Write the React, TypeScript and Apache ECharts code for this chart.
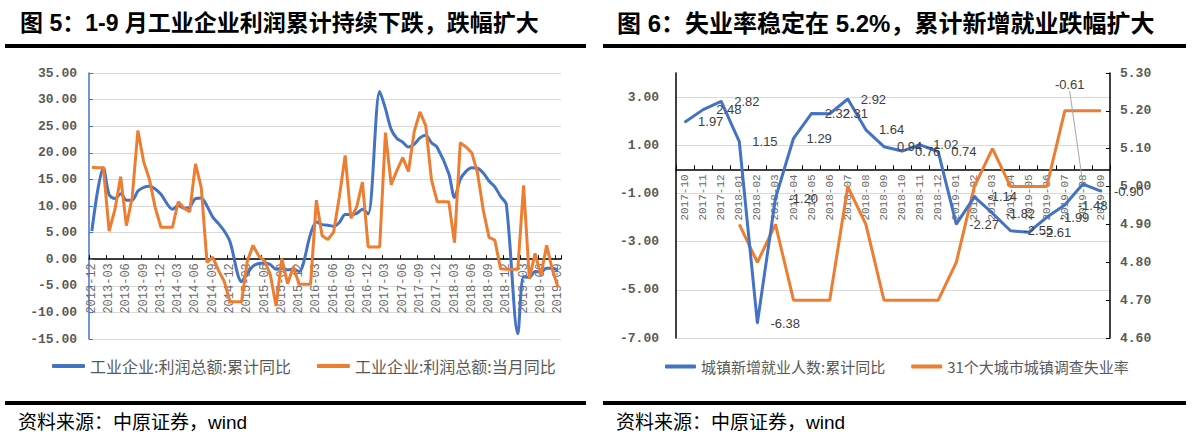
import React, { useEffect, useRef } from 'react';
import * as echarts from 'echarts';

function monthRange(sy: number, sm: number, ey: number, em: number): string[] {
  const out: string[] = [];
  let y = sy;
  let m = sm;
  while (y < ey || (y === ey && m <= em)) {
    out.push(`${y}-${m < 10 ? '0' + m : m}`);
    m += 1;
    if (m > 12) { m = 1; y += 1; }
  }
  return out;
}

// ---------- Figure 5 data ----------
const profitCategories = monthRange(2012, 12, 2019, 9);
const profitSeriesNames = ['工业企业:利润总额:累计同比', '工业企业:利润总额:当月同比'];
const profitCumulative: (number | null)[] = [
  5.3, null, 17.2, 12.1, 11.4, 12.3, 11.1, 11.1, 12.8, 13.5, 13.7, 13.2,
  12.2, null, 9.4, 10.1, 9.6, 9.8, 11.4, 11.5, 10.0, 7.9, 6.7, 5.3,
  3.3, null, -4.2, -2.7, -1.3, -0.8, -0.7, -1.0, -1.9, -1.7, -2.0, -1.9,
  -2.3, null, 4.8, 7.0, 6.5, 6.4, 6.2, 6.9, 8.4, 8.4, 8.6, 9.4,
  8.5, null, 31.5, 28.3, 24.4, 22.7, 22.0, 21.1, 21.6, 22.8, 23.3, 21.9,
  21.0, null, 16.1, 11.6, 15.0, 16.5, 17.2, 17.1, 16.2, 14.7, 13.6, 11.8,
  10.3, null, -14.0, -3.3, -3.4, -2.3, -2.4, -1.7, -1.7, -2.1,
];
const profitMonthly: number[] = [
  17.3, 17.2, 17.2, 5.3, 9.3, 15.5, 6.3, 11.6, 24.2, 18.3, 15.0, 9.7,
  6.0, 6.0, 6.0, 10.8, 9.6, 8.9, 17.9, 13.5, -0.6, 0.4, -2.1, -4.2,
  -8.0, -8.0, -8.0, -0.4, 2.6, 0.6, -0.3, -2.9, -8.8, 0.1, -4.6, -1.4,
  -4.7, -4.7, -4.7, 11.1, 4.4, 3.7, 5.1, 11.8, 19.5, 7.7, 9.8, 14.5,
  2.3, 2.3, 2.3, 23.8, 14.0, 16.7, 19.1, 16.5, 24.0, 27.7, 25.1, 14.9,
  10.8, 10.8, 10.8, 3.1, 21.9, 21.1, 20.0, 16.2, 9.2, 4.1, 3.6, -1.8,
  -1.9, -1.9, -1.9, 13.9, -3.7, 1.1, -3.1, 2.6, -2.0, -5.3,
];
const profitAxisRange = { min: -15, max: 35, interval: 5 };

// ---------- Figure 6 data ----------
const jobCategories = monthRange(2017, 10, 2019, 9);
const jobSeriesNames = ['城镇新增就业人数:累计同比', '31个大城市城镇调查失业率'];
const newJobsCumulative: number[] = [
  1.97, 2.48, 2.82, 1.15, -6.38, -1.20, 1.29, 2.32, 2.31, 2.92, 1.64, 0.94,
  0.76, 1.02, 0.74, -2.27, -1.14, -1.82, -2.55, -2.61, -1.99, -1.48, -0.61, -0.90,
];
const unemploymentRate: (number | null)[] = [
  null, null, null, 4.9, 4.8, 4.9, 4.7, 4.7, 4.7, 5.0, 4.9, 4.7,
  4.7, 4.7, 4.7, 4.8, 5.0, 5.1, 5.0, 5.0, 5.0, 5.2, 5.2, 5.2,
];
const jobsAxisRange = { min: -7, max: 4, interval: 2 };
const rateAxisRange = { min: 4.6, max: 5.3, interval: 0.1 };
const movedLabelIndex = 22;

const title5 = '图 5：1-9 月工业企业利润累计持续下跌，跌幅扩大';
const title6 = '图 6：失业率稳定在 5.2%，累计新增就业跌幅扩大';
const sourceText = '资料来源：中原证券，wind';

const BLUE = '#4472C4';
const ORANGE = '#ED7D31';
const GRID = '#d9d9d9';
const LABEL = '#595959';
const MONO = '"Liberation Mono", monospace';
const CJK = '"Liberation Sans", "Noto Sans CJK SC", sans-serif';

const GRID1 = { left: 89, top: 73, width: 472, height: 266 };
const GRID2 = { left: 676, top: 73, width: 434, height: 265 };

// distance of the zero line above the grid bottom
const zeroOffset = (r: { min: number; max: number }, h: number) => (-(0 - r.min) / (r.max - r.min)) * h;

export default function App() {
  const ref = useRef<HTMLDivElement>(null);

  useEffect(() => {
    if (!ref.current) return;
    const chart = echarts.init(ref.current, undefined, { renderer: 'svg' });

    const valueLabel = {
      fontFamily: MONO,
      fontWeight: 'bold' as const,
      fontSize: 13,
      color: LABEL,
      formatter: (v: number) => v.toFixed(2),
    };

    const option: any = {
      animation: false,
      textStyle: { fontFamily: CJK },
      grid: [GRID1, GRID2],
      xAxis: [
        {
          type: 'category',
          gridIndex: 0,
          data: profitCategories,
          boundaryGap: true,
          offset: zeroOffset(profitAxisRange, GRID1.height),
          axisLine: { onZero: false, lineStyle: { color: '#000', width: 1.5 } },
          axisTick: { show: true, inside: true, length: 4, interval: 2, lineStyle: { color: '#000' } },
          axisLabel: { rotate: 90, interval: 2, margin: 4, fontFamily: MONO, fontSize: 12, color: '#6b6b6b' },
          splitLine: { show: false },
        },
        {
          type: 'category',
          gridIndex: 1,
          data: jobCategories,
          boundaryGap: true,
          offset: zeroOffset(jobsAxisRange, GRID2.height),
          axisLine: { onZero: false, lineStyle: { color: '#000', width: 1.5 } },
          axisTick: { show: true, inside: true, length: 4, interval: 0, lineStyle: { color: '#000' } },
          axisLabel: { rotate: 90, interval: 0, margin: 5, fontFamily: MONO, fontSize: 11, color: '#6b6b6b' },
          splitLine: { show: false },
        },
      ],
      yAxis: [
        {
          type: 'value',
          gridIndex: 0,
          ...profitAxisRange,
          axisLine: { show: true, lineStyle: { color: BLUE, width: 1.5 } },
          axisTick: { show: true, inside: true, length: 4, lineStyle: { color: BLUE } },
          axisLabel: { ...valueLabel, margin: 12 },
          splitLine: { show: true, lineStyle: { color: GRID, width: 1 } },
        },
        {
          type: 'value',
          gridIndex: 1,
          position: 'left',
          ...jobsAxisRange,
          axisLine: { show: true, onZero: false, lineStyle: { color: '#000', width: 1.5 } },
          axisTick: { show: false },
          axisLabel: { ...valueLabel, margin: 17, showMaxLabel: false },
          splitLine: { show: true, showMaxLine: false, lineStyle: { color: GRID, width: 1 } },
        },
        {
          type: 'value',
          gridIndex: 1,
          position: 'right',
          ...rateAxisRange,
          axisLine: { show: true, onZero: false, lineStyle: { color: '#000', width: 1.5 } },
          axisTick: { show: true, inside: true, length: 4, lineStyle: { color: '#000' } },
          axisLabel: { ...valueLabel, margin: 10 },
          splitLine: { show: false },
        },
      ],
      legend: [
        {
          data: profitSeriesNames,
          left: 52,
          top: 358,
          padding: 0,
          itemWidth: 33,
          itemHeight: 4,
          icon: 'roundRect',
          itemGap: 26,
          textStyle: { fontFamily: '"Noto Sans CJK SC", sans-serif', fontSize: 16, color: LABEL },
        },
        {
          data: jobSeriesNames,
          left: 665,
          top: 359,
          padding: 0,
          itemWidth: 31,
          itemHeight: 4,
          icon: 'roundRect',
          itemGap: 26,
          textStyle: { fontFamily: '"Noto Sans CJK SC", sans-serif', fontSize: 15, color: LABEL },
        },
      ],
      series: [
        {
          name: profitSeriesNames[0],
          type: 'line',
          xAxisIndex: 0,
          yAxisIndex: 0,
          data: profitCumulative,
          connectNulls: true,
          smooth: 0.3,
          symbol: 'none',
          color: BLUE,
          lineStyle: { color: BLUE, width: 3 },
          z: 3,
        },
        {
          name: profitSeriesNames[1],
          type: 'line',
          xAxisIndex: 0,
          yAxisIndex: 0,
          data: profitMonthly,
          symbol: 'none',
          color: ORANGE,
          lineStyle: { color: ORANGE, width: 3 },
          z: 4,
        },
        {
          name: jobSeriesNames[0],
          type: 'line',
          xAxisIndex: 1,
          yAxisIndex: 1,
          data: newJobsCumulative.map((v, i) =>
            i === movedLabelIndex
              ? { value: v, labelLine: { show: true, lineStyle: { color: '#a6a6a6', width: 1 } } }
              : v
          ),
          symbol: 'circle',
          symbolSize: 2,
          showSymbol: true,
          itemStyle: { color: BLUE },
          color: BLUE,
          lineStyle: { color: BLUE, width: 3 },
          label: {
            show: true,
            position: 'right',
            distance: 12,
            fontFamily: '"Liberation Sans", sans-serif',
            fontSize: 13,
            color: '#404040',
            formatter: (p: any) => Number(p.value).toFixed(2),
          },
          labelLine: { show: false },
          labelLayout: (params: any) => {
            if (params.dataIndex === movedLabelIndex) {
              const r = params.labelRect;
              return { x: r.x - 41, y: r.y + r.height / 2 - 106 };
            }
            return {};
          },
          z: 4,
        },
        {
          name: jobSeriesNames[1],
          type: 'line',
          xAxisIndex: 1,
          yAxisIndex: 2,
          data: unemploymentRate,
          symbol: 'none',
          color: ORANGE,
          lineStyle: { color: ORANGE, width: 3 },
          z: 3,
        },
      ],
      graphic: [
        {
          type: 'text',
          x: 20,
          y: 23,
          style: { text: title5, font: `bold 23px ${CJK}`, fill: '#000', verticalAlign: 'middle' },
        },
        {
          type: 'text',
          x: 617,
          y: 23,
          style: { text: title6, font: `bold 24px ${CJK}`, fill: '#000', verticalAlign: 'middle' },
        },
        { type: 'rect', shape: { x: 5, y: 44, width: 581, height: 4 }, style: { fill: '#000' } },
        { type: 'rect', shape: { x: 603, y: 44, width: 583, height: 4 }, style: { fill: '#000' } },
        { type: 'rect', shape: { x: 5, y: 401, width: 581, height: 4 }, style: { fill: '#000' } },
        { type: 'rect', shape: { x: 603, y: 401, width: 583, height: 4 }, style: { fill: '#000' } },
        {
          type: 'text',
          x: 18,
          y: 422,
          style: { text: sourceText, font: `19px ${CJK}`, fill: '#000', verticalAlign: 'middle' },
        },
        {
          type: 'text',
          x: 616,
          y: 422,
          style: { text: sourceText, font: `19px ${CJK}`, fill: '#000', verticalAlign: 'middle' },
        },
      ],
    };

    chart.setOption(option);
    return () => chart.dispose();
  }, []);

  return (
    <div
      ref={ref}
      style={{ position: 'absolute', left: 0, top: 0, width: 1192, height: 442, background: '#fff' }}
    />
  );
}
